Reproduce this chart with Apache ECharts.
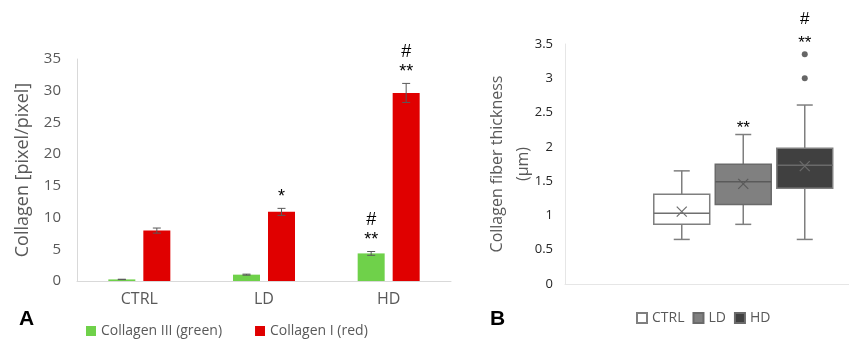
<!DOCTYPE html>
<html><head><meta charset="utf-8">
<script src="https://cdn.jsdelivr.net/npm/echarts@6/dist/echarts.min.js"></script>
<style>html,body{margin:0;padding:0;background:#fff}#c{width:849px;height:343px}</style>
</head><body><div id="c"></div>
<script>
// ---- Panel A data ----
const categoriesA = ['CTRL', 'LD', 'HD'];
const collagenIII = [0.25, 1.0, 4.35];
const collagenIIIErr = [0.03, 0.08, 0.3];
const collagenI = [7.95, 10.9, 29.65];
const collagenIErr = [0.4, 0.55, 1.5];
const annIII = ['', '', '#\n**'];
const annI = ['', '*', '#\n**'];
const yMinA = 0, yMaxA = 35, yStepA = 5;

// ---- Panel B data ----
const groupsB = ['CTRL', 'LD', 'HD'];
const boxMin = [0.65, 0.87, 0.65];
const boxQ1 = [0.87, 1.16, 1.395];
const boxMedian = [1.03, 1.49, 1.73];
const boxQ3 = [1.31, 1.745, 1.98];
const boxMax = [1.65, 2.18, 2.61];
const boxMean = [1.055, 1.46, 1.72];
const outlierGroup = [2, 2];
const outlierValue = [3.0, 3.35];
const annB = ['', '**', '#\n**'];
const yMinB = 0, yMaxB = 3.5, yStepB = 0.5;

const FONT = 'Open Sans';
const GREEN = '#6fd14a', RED = '#e00000';
const BAR_W = 27, BAR_GAP = 8;
const OUTLIER_SIZE = 6;

const boxFill = ['#ffffff', '#808080', '#404040'];
const boxStroke = ['#7f7f7f', '#6a6a6a', '#808080'];
const medStroke = ['#6f6f6f', '#5a5a5a', '#6a6a6a'];

function errSeries(name, vals, errs, anns, sign) {
  return {
    type: 'custom', name: name + ' err', xAxisIndex: 0, yAxisIndex: 0, z: 5,
    data: vals.map((v, i) => [i, v, errs[i]]),
    encode: { x: 0, y: 1 },
    renderItem: function (params, api) {
      const i = api.value(0), v = api.value(1), e = api.value(2);
      const top = api.coord([i, v + e]);
      const bot = api.coord([i, v - e]);
      const x = top[0] + sign * (BAR_W + BAR_GAP) / 2;
      const cap = 4;
      const ls = { stroke: '#595959', lineWidth: 1 };
      const ch = [
        { type: 'line', shape: { x1: x, y1: top[1], x2: x, y2: bot[1] }, style: ls },
        { type: 'line', shape: { x1: x - cap, y1: top[1], x2: x + cap, y2: top[1] }, style: ls },
        { type: 'line', shape: { x1: x - cap, y1: bot[1], x2: x + cap, y2: bot[1] }, style: ls }
      ];
      const t = anns[params.dataIndex];
      if (t) ch.push({ type: 'text', style: { text: t, x: x, y: top[1] - 1, textAlign: 'center', textVerticalAlign: 'bottom',
        font: '18px "Liberation Sans"', lineHeight: 20, fill: '#000' } });
      return { type: 'group', children: ch };
    }
  };
}

const chart = echarts.init(document.getElementById('c'), null, { renderer: 'canvas' });
chart.setOption({
  animation: false,
  textStyle: { fontFamily: FONT },
  grid: [
    { left: 77, right: 398, top: 59, bottom: 62 },
    { left: 565, right: 0, top: 44, bottom: 59 },
    { left: 651, right: 13.5, top: 44, bottom: 59 }
  ],
  xAxis: [
    { gridIndex: 0, type: 'category', data: categoriesA, axisTick: { show: false },
      axisLine: { lineStyle: { color: '#d9d9d9' } },
      axisLabel: { color: '#595959', fontSize: 16, fontFamily: FONT, margin: 10 } },
    { gridIndex: 1, type: 'category', data: [''], axisTick: { show: false }, axisLabel: { show: false },
      axisLine: { lineStyle: { color: '#e6e6e6' } } },
    { gridIndex: 2, type: 'category', data: groupsB, show: false }
  ],
  yAxis: [
    { gridIndex: 0, type: 'value', min: yMinA, max: yMaxA, interval: yStepA,
      name: 'Collagen [pixel/pixel]', nameLocation: 'middle', nameGap: 45, nameRotate: 90,
      nameTextStyle: { color: '#595959', fontSize: 18, fontFamily: FONT },
      axisLine: { show: true, lineStyle: { color: '#d9d9d9' } }, axisTick: { show: false },
      splitLine: { show: false },
      axisLabel: { color: '#595959', fontSize: 15, fontFamily: FONT, margin: 16 } },
    { gridIndex: 1, type: 'value', min: yMinB, max: yMaxB, interval: yStepB,
      name: 'Collagen fiber thickness\n(µm)', nameLocation: 'middle', nameGap: 29, nameRotate: 90,
      nameMoveOverlap: false,
      nameTextStyle: { color: '#595959', fontSize: 16, fontFamily: FONT, lineHeight: 26 },
      axisLine: { show: true, lineStyle: { color: '#e6e6e6' } }, axisTick: { show: false },
      splitLine: { show: false },
      axisLabel: { color: '#262626', fontSize: 13, fontFamily: FONT, margin: 12 } },
    { gridIndex: 2, type: 'value', min: yMinB, max: yMaxB, interval: yStepB, show: false }
  ],
  legend: [
    { data: ['Collagen III (green)', 'Collagen I (red)'], left: 81, top: 319, icon: 'rect',
      itemWidth: 10, itemHeight: 10, itemGap: 33,
      textStyle: { color: '#595959', fontSize: 14, fontFamily: FONT } },
    { data: ['CTRL', 'LD', 'HD'], left: 631, top: 306, icon: 'rect',
      itemWidth: 10, itemHeight: 10, itemGap: 8,
      textStyle: { color: '#595959', fontSize: 14, fontFamily: FONT } }
  ],
  graphic: [
    { type: 'text', left: 19, top: 309, style: { text: 'A', font: 'bold 21px "Liberation Sans"', fill: '#000' } },
    { type: 'text', left: 490, top: 309, style: { text: 'B', font: 'bold 21px "Liberation Sans"', fill: '#000' } }
  ],
  series: [
    { type: 'bar', name: 'Collagen III (green)', xAxisIndex: 0, yAxisIndex: 0, data: collagenIII,
      barWidth: BAR_W, barGap: (BAR_GAP / BAR_W * 100) + '%', itemStyle: { color: GREEN } },
    { type: 'bar', name: 'Collagen I (red)', xAxisIndex: 0, yAxisIndex: 0, data: collagenI,
      barWidth: BAR_W, itemStyle: { color: RED } },
    errSeries('III', collagenIII, collagenIIIErr, annIII, -1),
    errSeries('I', collagenI, collagenIErr, annI, 1),
    // legend-only entries for panel B
    { type: 'bar', name: 'CTRL', xAxisIndex: 2, yAxisIndex: 2, data: [], itemStyle: { color: boxFill[0], borderColor: '#7f7f7f', borderWidth: 1 } },
    { type: 'bar', name: 'LD', xAxisIndex: 2, yAxisIndex: 2, data: [], itemStyle: { color: boxFill[1], borderColor: '#6a6a6a', borderWidth: 1 } },
    { type: 'bar', name: 'HD', xAxisIndex: 2, yAxisIndex: 2, data: [], itemStyle: { color: boxFill[2], borderColor: '#6a6a6a', borderWidth: 1 } },
    {
      type: 'custom', name: 'box', xAxisIndex: 2, yAxisIndex: 2, z: 3,
      data: groupsB.map((g, i) => [i, boxMin[i], boxQ1[i], boxMedian[i], boxQ3[i], boxMax[i], boxMean[i]]),
      encode: { x: 0, y: [1, 2, 3, 4, 5] },
      renderItem: function (params, api) {
        const i = api.value(0);
        const pMin = api.coord([i, api.value(1)]);
        const pQ1 = api.coord([i, api.value(2)]);
        const pMed = api.coord([i, api.value(3)]);
        const pQ3 = api.coord([i, api.value(4)]);
        const pMax = api.coord([i, api.value(5)]);
        const pMean = api.coord([i, api.value(6)]);
        const band = api.size([1, 0])[0];
        const hw = band * 0.455, cap = 8, x = pMin[0], m = 5;
        const ws = { stroke: '#7f7f7f', lineWidth: 1.5 };
        const ch = [
          { type: 'line', shape: { x1: x, y1: pMax[1], x2: x, y2: pQ3[1] }, style: ws },
          { type: 'line', shape: { x1: x, y1: pQ1[1], x2: x, y2: pMin[1] }, style: ws },
          { type: 'line', shape: { x1: x - cap, y1: pMax[1], x2: x + cap, y2: pMax[1] }, style: ws },
          { type: 'line', shape: { x1: x - cap, y1: pMin[1], x2: x + cap, y2: pMin[1] }, style: ws },
          { type: 'rect', shape: { x: x - hw, y: pQ3[1], width: 2 * hw, height: pQ1[1] - pQ3[1] },
            style: { fill: boxFill[i], stroke: boxStroke[i], lineWidth: 1.5 } },
          { type: 'line', shape: { x1: x - hw, y1: pMed[1], x2: x + hw, y2: pMed[1] }, style: { stroke: medStroke[i], lineWidth: 1.5 } },
          { type: 'line', shape: { x1: x - m, y1: pMean[1] - m, x2: x + m, y2: pMean[1] + m }, style: { stroke: medStroke[i], lineWidth: 1.2 } },
          { type: 'line', shape: { x1: x - m, y1: pMean[1] + m, x2: x + m, y2: pMean[1] - m }, style: { stroke: medStroke[i], lineWidth: 1.2 } }
        ];
        return { type: 'group', children: ch };
      }
    },
    {
      type: 'scatter', name: 'outliers', xAxisIndex: 2, yAxisIndex: 2, z: 4,
      data: outlierValue.map((v, k) => [outlierGroup[k], v]),
      symbol: 'circle', symbolSize: OUTLIER_SIZE, itemStyle: { color: '#404040' }
    },
    {
      type: 'custom', name: 'annB', xAxisIndex: 2, yAxisIndex: 2, z: 6,
      data: groupsB.map((g, i) => {
        let top = boxMax[i], isOut = 0;
        outlierValue.forEach((v, k) => { if (outlierGroup[k] === i && v > top) { top = v; isOut = 1; } });
        return [i, top, isOut];
      }),
      encode: { x: 0, y: 1 },
      renderItem: function (params, api) {
        const t = annB[params.dataIndex];
        if (!t) return null;
        const p = api.coord([api.value(0), api.value(1)]);
        const lift = api.value(2) ? OUTLIER_SIZE / 2 + 2 : 0;
        return { type: 'text', style: { text: t, x: p[0], y: p[1] + 6 - lift, textAlign: 'center', textVerticalAlign: 'bottom',
          font: '17px "Liberation Sans"', lineHeight: 24, fill: '#000' } };
      }
    }
  ]
});
</script>
</body></html>
